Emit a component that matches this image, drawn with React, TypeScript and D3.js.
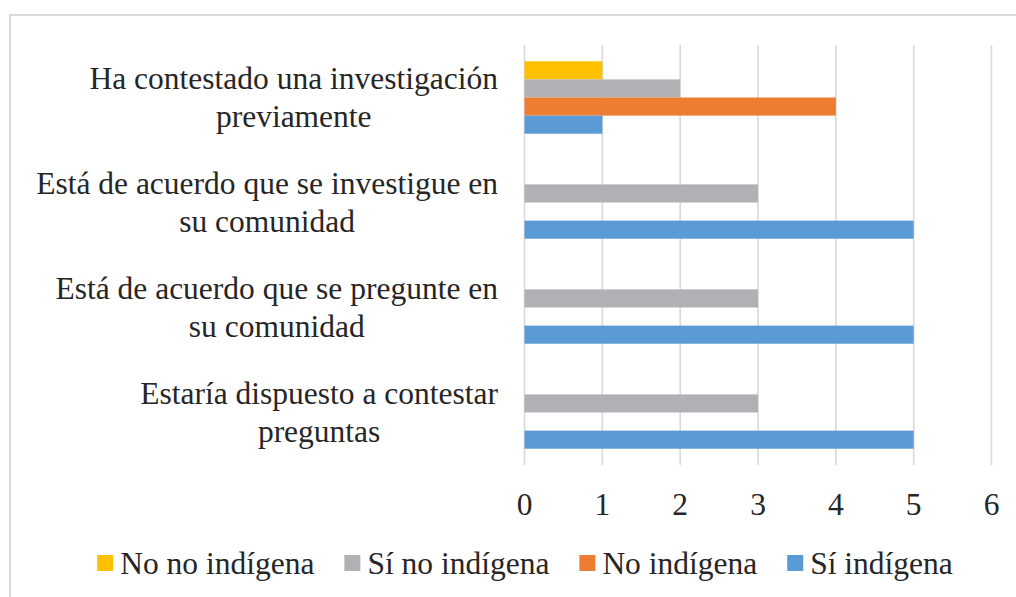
import React, { useEffect, useRef } from "react";
import * as d3 from "d3";

const categories = [
  "Ha contestado una investigación previamente",
  "Está de acuerdo que se investigue en su comunidad",
  "Está de acuerdo que se pregunte en su comunidad",
  "Estaría dispuesto a contestar preguntas",
];
const categoryLines = [
  ["Ha contestado una investigación", "previamente"],
  ["Está de acuerdo que se investigue en", "su comunidad"],
  ["Está de acuerdo que se pregunte en", "su comunidad"],
  ["Estaría dispuesto a contestar", "preguntas"],
];
const seriesNames = ["No no indígena", "Sí no indígena", "No indígena", "Sí indígena"];
const seriesColors = ["#FFC000", "#B0B1B5", "#ED7D31", "#5B9BD5"];
const noNoIndigena = [1, 0, 0, 0];
const siNoIndigena = [2, 3, 3, 3];
const noIndigena = [4, 0, 0, 0];
const siIndigena = [1, 5, 5, 5];
const seriesValues = [noNoIndigena, siNoIndigena, noIndigena, siIndigena];
const xTicks = [0, 1, 2, 3, 4, 5, 6];

const W = 1016;
const H = 597;
const FS = 31.5;
const FAMILY = "Liberation Serif";

export default function App() {
  const ref = useRef<SVGSVGElement | null>(null);

  useEffect(() => {
    const svg = d3.select(ref.current);
    svg.selectAll("*").remove();

    const styleText = (sel: any) =>
      sel
        .attr("font-family", FAMILY)
        .attr("font-size", FS)
        .attr("fill", "#262626")
        .each(function (this: SVGTextElement) {
          this.style.setProperty("font-family", FAMILY, "important");
          this.style.setProperty("font-size", FS + "px", "important");
        });

    const x = d3.scaleLinear().domain([0, 6]).range([524.5, 991.5]);
    const y = d3.scaleBand<string>().domain(categories).range([45, 465]).padding(0);
    const bw = y.bandwidth();
    const inner = d3
      .scaleBand<string>()
      .domain(seriesNames)
      .range([bw * 0.155, bw * 0.845])
      .padding(0);

    svg
      .append("rect")
      .attr("x", 10)
      .attr("y", 15)
      .attr("width", W + 50)
      .attr("height", H + 50)
      .attr("fill", "#fff")
      .attr("stroke", "#D9D9D9")
      .attr("stroke-width", 2);

    svg
      .append("g")
      .selectAll("line")
      .data(xTicks)
      .join("line")
      .attr("x1", (d) => x(d))
      .attr("x2", (d) => x(d))
      .attr("y1", 45)
      .attr("y2", 465)
      .attr("stroke", "#D9D9D9")
      .attr("stroke-width", 1.6);

    const bars: { c: string; s: string; v: number; color: string }[] = [];
    categories.forEach((c, ci) =>
      seriesNames.forEach((s, si) => {
        const v = seriesValues[si][ci];
        if (v) bars.push({ c, s, v, color: seriesColors[si] });
      })
    );
    svg
      .append("g")
      .selectAll("rect")
      .data(bars)
      .join("rect")
      .attr("x", x(0))
      .attr("y", (d) => (y(d.c) ?? 0) + (inner(d.s) ?? 0))
      .attr("width", (d) => x(d.v) - x(0))
      .attr("height", inner.bandwidth())
      .attr("fill", (d) => d.color);

    // category labels
    const labelRight = 498;
    const lineH = 38;
    const lg = svg.append("g");
    categories.forEach((c, ci) => {
      const lines = categoryLines[ci];
      const cy = (y(c) ?? 0) + bw / 2;
      const texts = lines.map((l, li) =>
        styleText(
          lg
            .append("text")
            .attr("y", cy + (li - (lines.length - 1) / 2) * lineH)
            .attr("text-anchor", "middle")
            .attr("dominant-baseline", "central")
            .text(l)
        )
      );
      const maxW = d3.max(texts, (t: any) => (t.node() as SVGTextElement).getComputedTextLength()) ?? 0;
      texts.forEach((t: any) => t.attr("x", labelRight - maxW / 2));
    });

    // x tick labels
    styleText(
      svg
        .append("g")
        .selectAll("text")
        .data(xTicks)
        .join("text")
        .attr("x", (d) => x(d))
        .attr("y", 504)
        .attr("text-anchor", "middle")
        .attr("dominant-baseline", "central")
        .text((d) => String(d))
    );

    // legend
    const sq = 16;
    const textGap = 7;
    const itemGap = 30;
    const legendY = 563;
    const leg = svg.append("g");
    const items = seriesNames.map((s, si) => {
      const g = leg.append("g");
      g.append("rect")
        .attr("x", 0)
        .attr("y", -sq / 2)
        .attr("width", sq)
        .attr("height", sq)
        .attr("fill", seriesColors[si]);
      const t = styleText(
        g.append("text").attr("x", sq + textGap).attr("y", 0).attr("dominant-baseline", "central").text(s)
      );
      const w = sq + textGap + (t.node() as SVGTextElement).getComputedTextLength();
      return { g, w };
    });
    const total = d3.sum(items, (d) => d.w) + itemGap * (items.length - 1);
    let cursor = 525 - total / 2;
    items.forEach((it) => {
      it.g.attr("transform", `translate(${cursor},${legendY})`);
      cursor += it.w + itemGap;
    });
  }, []);

  return (
    <svg
      ref={ref}
      width={W}
      height={H}
      style={{ position: "absolute", left: 0, top: 0, background: "#fff", fontFamily: FAMILY }}
    />
  );
}
